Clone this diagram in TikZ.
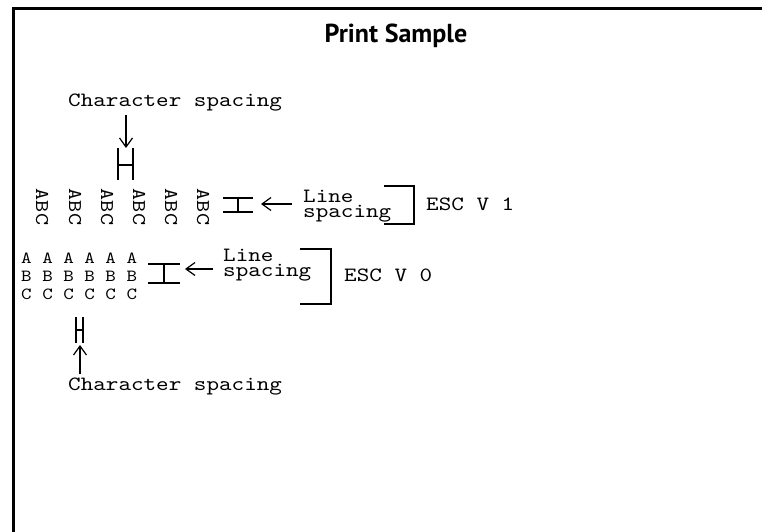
\documentclass[tikz,border=0pt]{standalone}
\usepackage{fontspec}
\setmonofont{lmmono10-regular.otf}[FakeStretch=1.18]
\newfontfamily\titlefont{PT Sans}
\usetikzlibrary{arrows.meta}

\begin{document}
\begin{tikzpicture}[x=1pt, y=-1pt, >={Straight Barb[length=9pt,width=13pt]}]
    \useasboundingbox (0,0) rectangle (762,532);
    \tikzset{
        mono/.style={font=\ttfamily\fontsize{20.3}{15.5}\selectfont, inner sep=0pt, align=left},
        small/.style={font=\ttfamily\fontsize{17}{15}\selectfont},
        bar/.style={line width=2.6pt},
        pointer/.style={->, line width=1.2pt},
    }

    % Frame
    \draw[line width=3pt] (13,532) -- (13,9) -- (762,9);

    % Title
    \node (title) at (396,36) {\titlefont\bfseries\fontsize{26}{30}\selectfont Print Sample};

    % ESC V 1 sample (rotated columns)
    \foreach \i/\x in {1/42,2/75,3/107,4/139,5/171,6/203}
        \node[mono, rotate=-90, font=\ttfamily\fontsize{19.5}{20}\selectfont] (col\i) at (\x,207) {ABC};

    % Character spacing (top)
    \node[mono, anchor=west] (cstop) at (68,103) {Character spacing};
    \coordinate (htop) at (126,148);
    \draw[pointer] ([yshift=-3pt]cstop.south -| htop) -- (htop);
    \draw[bar] (118,148) -- (118,180) (133,148) -- (133,180) (118,165) -- (133,165);

    % Line spacing (top)
    \draw[bar] (223,198) -- (253,198) (223,212) -- (253,212) (238,198) -- (238,212);
    \node[mono, anchor=west] (lstop) at (303,206) {Line\\spacing};
    \coordinate (ltop) at (261,204);
    \coordinate (ltopstart) at (292,204);
    \draw[pointer] (ltopstart) -- (ltop);
    \draw[bar] (384,186) -- (414,186) -- (414,224) -- (384,224);
    \node[mono, anchor=west] (esc1) at (426,204) {ESC V 1};

    % ESC V 0 sample (rows)
    \node[mono, small, anchor=west] (rowa) at (21,258) {A A A A A A};
    \node[mono, small, anchor=west] (rowb) at (21,276) {B B B B B B};
    \node[mono, small, anchor=west] (rowc) at (21,294) {C C C C C C};

    % Line spacing (bottom)
    \draw[bar] (148,264) -- (180,264) (148,283) -- (180,283) (164,264) -- (164,283);
    \node[mono, anchor=west] (lsbot) at (223,265) {Line\\spacing};
    \coordinate (lbot) at (185,269);
    \coordinate (lbotstart) at (213,269);
    \draw[pointer] (lbotstart) -- (lbot);
    \draw[bar] (300,249) -- (331,249) -- (331,304) -- (300,304);
    \node[mono, anchor=west] (esc0) at (344,275) {ESC V 0};

    % Character spacing (bottom)
    \draw[bar] (76,317) -- (76,343) (83,317) -- (83,343) (76,330) -- (83,330);
    \node[mono, anchor=west] (csbot) at (68,387) {Character spacing};
    \coordinate (hbot) at (80,345);
    \draw[pointer] ([yshift=4pt]csbot.north -| hbot) -- (hbot);
\end{tikzpicture}
\end{document}
